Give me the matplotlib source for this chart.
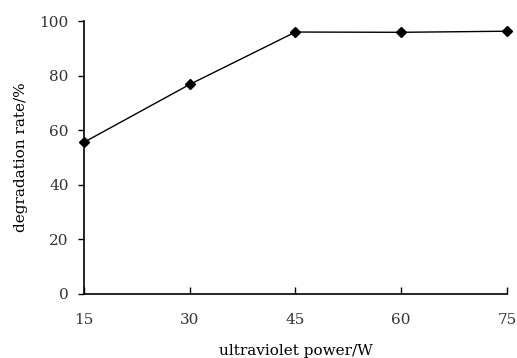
import matplotlib
matplotlib.use('Agg')
import matplotlib.pyplot as plt

# data
power = [15, 30, 45, 60, 75]
rate = [55.6, 76.8, 96.0, 95.9, 96.3]
xticks = [15, 30, 45, 60, 75]
yticks = [0, 20, 40, 60, 80, 100]

plt.rcParams['font.family'] = ['DejaVu Serif']

fig = plt.figure(figsize=(5.17, 3.58), dpi=100)
ax = fig.add_axes([0.1625, 0.179, 0.818, 0.762])

ax.plot(power, rate, color='black', linewidth=1, marker='D', markersize=5,
        clip_on=False, zorder=3)

ax.set_xlim(15, 75)
ax.set_ylim(0, 100)
ax.set_xticks(xticks)
ax.set_yticks(yticks)

ax.spines['top'].set_visible(False)
ax.spines['right'].set_visible(False)
ax.spines['left'].set_linewidth(1.2)
ax.spines['bottom'].set_linewidth(1.2)

ax.tick_params(axis='x', direction='in', length=5, width=1, pad=14,
               labelsize=11, labelcolor='#333333')
ax.tick_params(axis='y', direction='out', length=4, width=1, pad=7,
               labelsize=11, labelcolor='#333333')

ax.set_xlabel('ultraviolet power/W', fontsize=11, labelpad=12)
ax.set_ylabel('degradation rate/%', fontsize=11, labelpad=8)

plt.savefig('out.png', dpi=100)
